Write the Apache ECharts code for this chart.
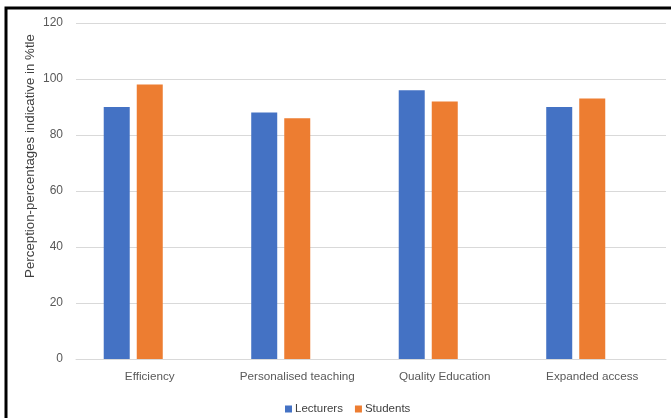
<!DOCTYPE html>
<html>
<head>
<meta charset="utf-8">
<script src="https://cdn.jsdelivr.net/npm/echarts@6/dist/echarts.min.js"></script>
<style>
  html, body { margin: 0; padding: 0; background: #fff; }
  #chart { width: 671px; height: 418px; }
</style>
</head>
<body>
<div id="chart"></div>
<script>
// categories and values
var categories = ['Efficiency', 'Personalised teaching', 'Quality Education', 'Expanded access'];
var lecturers = [90, 88, 96, 90];
var students = [98, 86, 92, 93];
// empty third slot, the original groups bars as if a third series existed
var emptySlot = [null, null, null, null];

var yTicks = { min: 0, max: 120, interval: 20 };
var yTitle = 'Perception-percentages indicative in %tle';

var font = 'Liberation Sans, Arial, sans-serif';

var chart = echarts.init(document.getElementById('chart'));

var option = {
    animation: false,
    backgroundColor: '#fff',
    textStyle: { fontFamily: font },
    grid: { left: 76, right: 5, top: 23, bottom: 59 },
    legend: {
        data: ['Lecturers', 'Students'],
        left: 280,
        top: 398,
        itemWidth: 7,
        itemHeight: 7,
        itemGap: 12,
        icon: 'rect',
        textStyle: { fontSize: 11.5, color: '#404040', fontFamily: font, padding: [0, 0, 0, -2] }
    },
    xAxis: {
        type: 'category',
        data: categories,
        axisTick: { show: false },
        axisLine: { lineStyle: { color: '#d9d9d9' } },
        axisLabel: { color: '#595959', fontSize: 11.7, margin: 12, interval: 0, hideOverlap: false, fontFamily: font }
    },
    yAxis: {
        type: 'value',
        min: yTicks.min,
        max: yTicks.max,
        interval: yTicks.interval,
        axisLine: { show: false },
        axisTick: { show: false },
        axisLabel: { color: '#595959', fontSize: 12, margin: 13, fontFamily: font },
        splitLine: { lineStyle: { color: '#d9d9d9', width: 1 } }
    },
    graphic: [
        {
            type: 'rect',
            shape: { x: 6, y: 8, width: 700, height: 450 },
            style: { fill: 'none', stroke: '#000', lineWidth: 3 },
            silent: true
        },
        {
            type: 'text',
            x: 30,
            y: 156,
            rotation: Math.PI / 2,
            style: {
                text: yTitle,
                fill: '#404040',
                font: '13.3px ' + font,
                align: 'center',
                verticalAlign: 'middle'
            }
        }
    ],
    series: [
        {
            name: 'Lecturers',
            type: 'bar',
            data: lecturers,
            barWidth: 26,
            barGap: '27%',
            itemStyle: { color: '#4472c4' }
        },
        {
            name: 'Students',
            type: 'bar',
            data: students,
            barWidth: 26,
            barGap: '27%',
            itemStyle: { color: '#ed7d31' }
        },
        {
            name: '',
            type: 'bar',
            data: emptySlot,
            barWidth: 26,
            barGap: '27%',
            silent: true
        }
    ]
};

chart.setOption(option);
</script>
</body>
</html>
